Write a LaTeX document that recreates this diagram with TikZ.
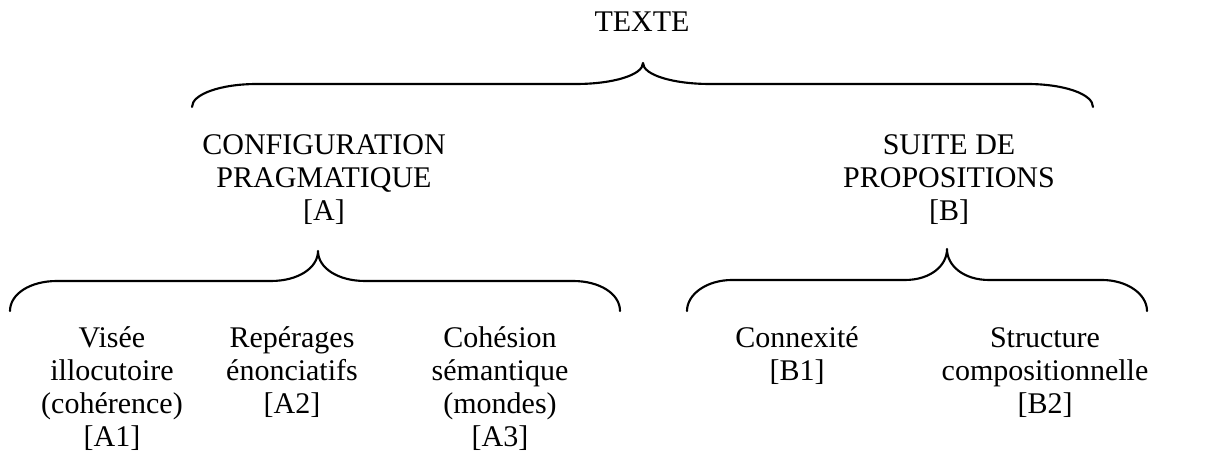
\documentclass[tikz,border=0pt]{standalone}
\usepackage{fontspec}
\setmainfont{Liberation Serif}
% centred multi-line block whose baseline is the first line
\newcommand\lignes[1]{\begin{tabular}[t]{@{}c@{}}#1\end{tabular}}
\tikzset{
  lbl/.style={anchor=base, inner sep=0pt, outer sep=0pt,
    font=\fontsize{12pt}{13.2pt}\selectfont},
  accolade/.style={line width=0.85pt, line cap=round, line join=round}
}
\begin{document}
\begin{tikzpicture}[x=0.4pt,y=-0.4pt]
\useasboundingbox (0,0) rectangle (1207,457);

% ---- texts -----------------------------------------------------------
\node[lbl] (texte) at (642,32) {TEXTE};
\node[lbl] (A) at (324,155) {\lignes{CONFIGURATION\\PRAGMATIQUE\\{}[A]}};
\node[lbl] (B) at (949,155) {\lignes{SUITE DE\\PROPOSITIONS\\{}[B]}};
\node[lbl] (A1) at (112,348) {\lignes{Visée\\illocutoire\\(cohérence)\\{}[A1]}};
\node[lbl] (A2) at (292,348) {\lignes{Repérages\\énonciatifs\\{}[A2]}};
\node[lbl] (A3) at (500,348) {\lignes{Cohésion\\sémantique\\(mondes)\\{}[A3]}};
\node[lbl] (B1) at (797,348) {\lignes{Connexité\\{}[B1]}};
\node[lbl] (B2) at (1045,348) {\lignes{Structure\\compositionnelle\\{}[B2]}};

% ---- braces ----------------------------------------------------------
% top brace under TEXTE
\coordinate (t1) at (192,107);
\coordinate (t2) at (1093,107);
\coordinate (tt) at (643,63);
\draw[accolade] (t1)
  .. controls (192,94) and (221,84) .. (257,84)
  -- (576,84)
  .. controls (613,84) and (643,75) .. (tt)
  .. controls (643,75) and (673,84) .. (710,84)
  -- (1027,84)
  .. controls (1064,84) and (1093,94) .. (t2);

% brace under [A]
\coordinate (a1) at (10,311);
\coordinate (a2) at (620,311);
\coordinate (at) at (318,251);
\draw[accolade] (a1)
  .. controls (10,294) and (30,281) .. (57,281)
  -- (271,281)
  .. controls (298,281) and (318,268) .. (at)
  .. controls (318,268) and (338,281) .. (365,281)
  -- (573,281)
  .. controls (600,281) and (620,294) .. (a2);

% brace under [B]
\coordinate (b1) at (687,311);
\coordinate (b2) at (1147,311);
\coordinate (bt) at (947,249);
\draw[accolade] (b1)
  .. controls (687,294) and (707,280) .. (732,280)
  -- (905,280)
  .. controls (930,280) and (947,266) .. (bt)
  .. controls (947,266) and (964,280) .. (989,280)
  -- (1102,280)
  .. controls (1127,280) and (1147,294) .. (b2);
\end{tikzpicture}
\end{document}
